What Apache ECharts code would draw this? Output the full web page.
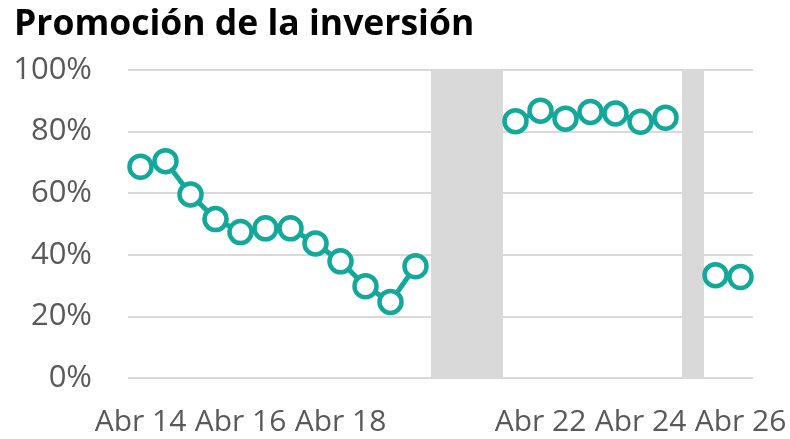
<!DOCTYPE html>
<html>
<head>
<meta charset="utf-8">
<script src="https://cdn.jsdelivr.net/npm/echarts@6/dist/echarts.min.js"></script>
<style>
  html, body { margin: 0; padding: 0; background: #fff; }
  #chart { width: 790px; height: 439px; }
</style>
</head>
<body>
<div id="chart"></div>
<script>
// Half-day survey slots from Abr 14 to Abr 26
const slots = [
  'Abr 14', 'Abr 14 tarde', 'Abr 15', 'Abr 15 tarde', 'Abr 16', 'Abr 16 tarde',
  'Abr 17', 'Abr 17 tarde', 'Abr 18', 'Abr 18 tarde', 'Abr 19', 'Abr 19 tarde',
  'Abr 20', 'Abr 20 tarde', 'Abr 21', 'Abr 21 tarde', 'Abr 22', 'Abr 22 tarde',
  'Abr 23', 'Abr 23 tarde', 'Abr 24', 'Abr 24 tarde', 'Abr 25', 'Abr 25 tarde', 'Abr 26'
];
// Slots whose date appears on the axis
const labelledSlots = ['Abr 14', 'Abr 16', 'Abr 18', 'Abr 22', 'Abr 24', 'Abr 26'];

// Share of respondents (%), null where there was no survey
const promocion = [
  68.6, 70.4, 59.6, 51.6, 47.4, 48.6, 48.6, 43.7, 37.9, 29.8, 24.7, 36.3,
  null, null, null,
  83.4, 86.8, 84.2, 86.4, 85.9, 83.2, 84.5,
  null,
  33.4, 32.8
];

// Shaded periods without fieldwork, in slot units [start, end]
const pausaInicio = [11.62, 21.66];
const pausaFin = [14.5, 22.54];

const yTicks = [0, 20, 40, 60, 80, 100];

const teal = '#13A89A';
const band = '#D9D9D9';
const axisText = '#595959';

const chart = echarts.init(document.getElementById('chart'), null, { renderer: 'canvas' });

chart.setOption({
  animation: false,
  backgroundColor: '#fff',
  title: {
    text: 'Promoción de la inversión',
    left: 9,
    top: 2,
    textStyle: {
      fontFamily: 'Open Sans',
      fontWeight: 700,
      fontSize: 35.5,
      color: '#000'
    }
  },
  grid: { left: 128, right: 37, top: 70, bottom: 61, containLabel: false },
  xAxis: [
    {
      type: 'category',
      data: slots,
      boundaryGap: true,
      axisLine: { show: false },
      axisTick: { show: false },
      axisLabel: {
        interval: (i, v) => labelledSlots.indexOf(v) >= 0,
        color: axisText,
        fontFamily: 'Open Sans',
        fontSize: 30,
        margin: 29
      }
    },
    {
      type: 'value',
      min: -0.5,
      max: slots.length - 0.5,
      show: false
    }
  ],
  yAxis: {
    type: 'value',
    min: yTicks[0],
    max: yTicks[yTicks.length - 1],
    interval: 20,
    axisLine: { show: false },
    axisTick: { show: false },
    splitLine: { lineStyle: { color: band, width: 2 } },
    axisLabel: {
      formatter: '{value}%',
      color: axisText,
      fontFamily: 'Open Sans',
      fontSize: 31,
      margin: 36
    }
  },
  series: [
    {
      type: 'line',
      xAxisIndex: 1,
      data: [],
      silent: true,
      markArea: {
        silent: true,
        itemStyle: { color: band },
        data: pausaInicio.map((s, i) => [{ xAxis: s }, { xAxis: pausaFin[i] }])
      }
    },
    {
      type: 'line',
      xAxisIndex: 0,
      data: promocion,
      connectNulls: false,
      symbol: 'circle',
      symbolSize: 22,
      showSymbol: true,
      showAllSymbol: true,
      lineStyle: { color: teal, width: 5 },
      itemStyle: { color: '#fff', borderColor: teal, borderWidth: 4.5 },
      z: 3
    }
  ]
});
</script>
</body>
</html>
